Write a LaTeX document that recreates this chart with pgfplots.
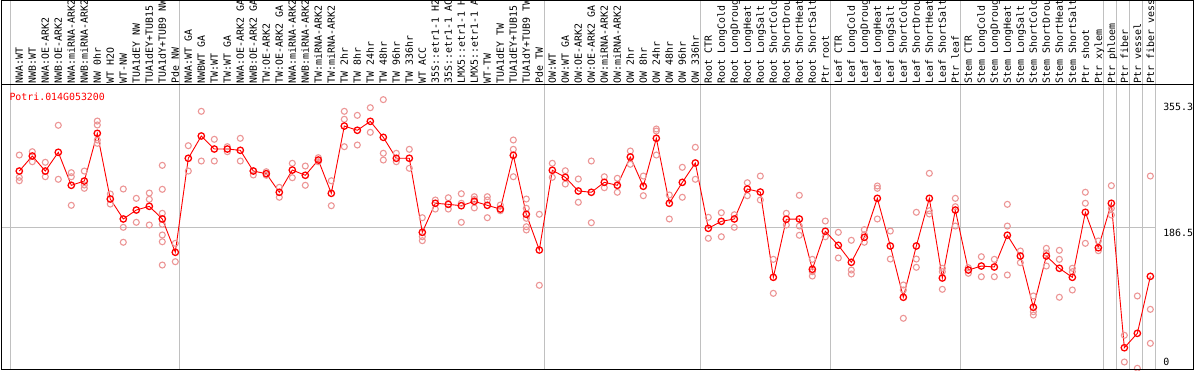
\documentclass[border=0pt]{standalone}
\usepackage{pgfplots}
\pgfplotsset{compat=1.18}
\usepackage{pgfplotstable}
\usepackage{fontspec}
\newfontfamily\monofont{DejaVu Sans Mono}
\newcommand\mf{\monofont\fontsize{9.9pt}{12pt}\selectfont}
\definecolor{pinkrep}{RGB}{236,150,150}
\definecolor{gridgray}{RGB}{192,192,192}

\pgfplotstableread{
x y
0 282.3
0 252.9
0 248.4
1 286.7
1 273.5
2 272.7
2 253.7
3 321.5
3 250.3
4 259.0
4 253.7
4 216.0
5 261.2
5 242.8
5 238.4
6 327.1
6 321.9
6 297.7
6 302.1
7 217.7
7 230.9
8 237.5
8 187.0
8 167.3
9 225.2
9 193.6
10 232.2
10 223.9
10 190.1
11 268.7
11 237.1
11 205.5
11 191.0
11 176.9
11 168.0
11 137.3
12 165.9
12 141.7
13 294.6
13 261.2
14 339.9
14 274.4
15 303.0
15 274.4
16 293.3
16 286.7
17 304.3
17 274.4
18 261.6
18 256.0
19 260.3
19 255.6
20 239.7
20 226.6
21 271.4
21 252.4
22 267.8
22 242.4
23 278.8
23 273.5
24 248.4
24 215.5
25 339.9
25 329.4
25 293.3
26 334.6
26 295.5
27 344.7
27 312.2
28 355.3
28 284.6
28 275.7
29 284.6
29 273.5
30 289.8
30 264.8
31 199.7
31 174.6
31 169.4
32 223.0
32 211.1
33 226.0
33 211.1
34 231.3
34 218.7
34 193.6
35 227.4
35 223.9
35 212.6
36 227.4
36 223.0
36 199.7
37 216.4
37 208.9
38 302.1
38 289.8
38 253.7
39 224.3
39 212.1
39 198.9
39 187.8
39 183.5
40 204.2
40 110.6
41 271.4
41 252.9
42 261.6
42 244.1
43 250.7
43 220.0
44 274.4
44 193.1
45 253.7
45 239.2
46 251.6
46 233.2
47 287.6
47 270.1
48 254.6
48 228.7
49 316.6
49 313.9
49 282.3
50 229.6
50 198.0
51 266.1
51 226.6
52 292.5
52 250.3
53 200.2
53 172.5
54 206.3
54 174.6
55 203.6
55 187.0
56 245.8
56 228.7
57 254.6
57 223.0
58 144.8
58 100.0
59 205.5
59 190.1
60 229.2
60 188.7
60 176.5
61 144.8
61 128.5
61 122.8
62 195.3
62 174.6
63 180.4
63 146.6
64 169.9
64 130.7
64 125.5
65 183.9
65 177.3
65 167.3
66 241.5
66 238.4
66 198.0
67 182.1
67 145.2
68 111.0
68 104.4
68 67.1
69 206.8
69 145.2
69 134.3
70 258.2
70 208.9
70 204.6
71 133.0
71 128.5
71 105.3
72 225.2
72 214.2
72 188.7
73 133.8
73 126.4
74 148.3
74 121.9
75 144.8
75 121.9
76 217.3
76 188.7
76 124.2
77 155.8
77 140.4
78 96.5
78 75.8
78 71.4
79 159.3
79 153.2
79 136.0
80 156.7
80 144.8
80 94.8
81 133.0
81 128.5
81 104.4
82 233.2
82 218.7
82 165.9
83 169.0
83 156.2
84 241.9
84 212.1
84 203.2
85 44.7
85 9.5
86 96.5
86 1.2
87 254.6
87 78.9
87 34.1
}\reps

\pgfplotstableread{
x y
0 261.2
1 281.0
2 261.2
3 285.9
4 242.4
5 248.0
6 310.9
7 224.3
8 198.0
9 209.8
10 214.7
11 198.0
12 154.1
13 278.0
14 307.4
15 290.2
16 290.2
17 288.5
18 261.2
19 257.7
20 233.2
21 262.5
22 255.6
23 275.7
24 231.8
25 320.5
26 314.9
27 326.7
28 305.6
29 278.0
30 278.0
31 180.4
32 218.7
33 217.3
34 215.5
35 221.3
36 216.0
37 211.1
38 281.9
39 204.2
40 157.1
41 262.2
42 252.9
43 234.9
44 233.2
45 246.3
46 242.4
47 279.7
48 241.1
49 304.3
50 218.7
51 246.3
52 271.8
53 185.7
54 194.9
55 198.0
56 237.5
57 233.5
58 121.1
59 197.6
60 198.0
61 131.7
62 181.8
63 163.3
64 140.9
65 173.8
66 225.2
67 162.4
68 94.8
69 162.4
70 225.2
71 120.2
72 209.8
73 130.7
74 136.0
75 134.7
76 176.6
77 149.2
78 81.6
79 149.2
80 133.0
81 121.1
82 206.8
83 160.1
84 218.7
85 28.3
86 47.3
87 122.4
}\means

\begin{document}
\begin{tikzpicture}
\useasboundingbox (0pt,0pt) rectangle (1194pt,370pt);
\clip (0pt,0pt) rectangle (1194pt,370pt);
\begin{axis}[
  at={(1.5pt,0.8pt)}, anchor=south west,
  scale only axis, width=1191.5pt, height=284.2pt,
  xmin=-1.369, xmax=90.285, ymin=0, ymax=374.6,
  axis line style={line width=1pt},
  axis on top,
  clip=false,
  major tick length=0pt,
  xtick={0,...,87},
  xticklabels={NWA:WT,NWB:WT,NWA:OE-ARK2,NWB:OE-ARK2,NWA:miRNA-ARK2,NWB:miRNA-ARK2,NW 0hr,WT H2O,WT-NW,TUA1dEY NW,TUA1dEY+TUB15,TUA1dY+TUB9 NW,Pde NW,
    NWA:WT GA,NWBWT GA,TW:WT,TW:WT GA,NWA:OE-ARK2 GA,NWB:OE-ARK2 GA,TW:OE-ARK2,TW:OE-ARK2 GA,NWA:miRNA-ARK2,NWB:miRNA-ARK2,TW:miRNA-ARK2,TW:miRNA-ARK2,TW 2hr,TW 8hr,TW 24hr,TW 48hr,TW 96hr,TW 336hr,WT ACC,35S::etr1-1 H2,35S::etr1-1 AC,LMX5::etr1-1 H,LMX5::etr1-1 A,WT-TW,TUA1dEY TW,TUA1dEY+TUB15,TUA1dY+TUB9 TW,Pde TW,
    OW:WT,OW:WT GA,OW:OE-ARK2,OW:OE-ARK2 GA,OW:miRNA-ARK2,OW:miRNA-ARK2,OW 2hr,OW 8hr,OW 24hr,OW 48hr,OW 96hr,OW 336hr,
    Root CTR,Root LongCold,Root LongDroug,Root LongHeat,Root LongSalt,Root ShortCold,Root ShortDrou,Root ShortHeat,Root ShortSalt,Ptr root,
    Leaf CTR,Leaf LongCold,Leaf LongDroug,Leaf LongHeat,Leaf LongSalt,Leaf ShortCold,Leaf ShortDrou,Leaf ShortHeat,Leaf ShortSalt,Ptr leaf,
    Stem CTR,Stem LongCold,Stem LongDroug,Stem LongHeat,Stem LongSalt,Stem ShortCold,Stem ShortDrou,Stem ShortHeat,Stem ShortSalt,Ptr shoot,Ptr xylem,
    Ptr phloem,Ptr fiber,Ptr vessel,Ptr fiber vess},
  xticklabel pos=upper,
  xtick pos=upper,
  xticklabel shift=1.5pt,
  x tick label style={rotate=90, anchor=west, inner sep=0pt, text height=8pt, text depth=0.7pt, font=\mf},
  ytick={9.5,180.2,346},
  yticklabels={0,186.5,355.3},
  yticklabel pos=right,
  ytick pos=right,
  y tick label style={anchor=west, xshift=-30pt, inner sep=0pt, text height=8pt, text depth=0.7pt, font=\mf},
]
\pgfplotsinvokeforeach{-0.68,12.36,40.36,52.36,62.37,72.37,83.37,84.37,85.37,86.37,87.38}{
  \draw[gridgray, line width=1pt] (axis cs:#1,0) -- (axis cs:#1,500);
}
\draw[gridgray, line width=1pt] (axis cs:-1.369,186.5) -- (axis cs:87.38,186.5);
\addplot[only marks, mark=o, mark size=3pt, color=pinkrep, mark options={line width=1.1pt}] table {\reps};
\addplot[red, line width=0.9pt, mark=o, mark size=3.2pt, mark options={line width=1.3pt, solid}] table {\means};
\end{axis}
\draw[line width=1pt] (1.5pt,0.8pt) rectangle (1193pt,369.5pt);
\node[anchor=west, inner sep=0pt, text=red, text height=8pt, text depth=0.7pt, font=\mf] at (9.3pt,273.3pt) {Potri.014G053200};
\end{tikzpicture}
\end{document}
